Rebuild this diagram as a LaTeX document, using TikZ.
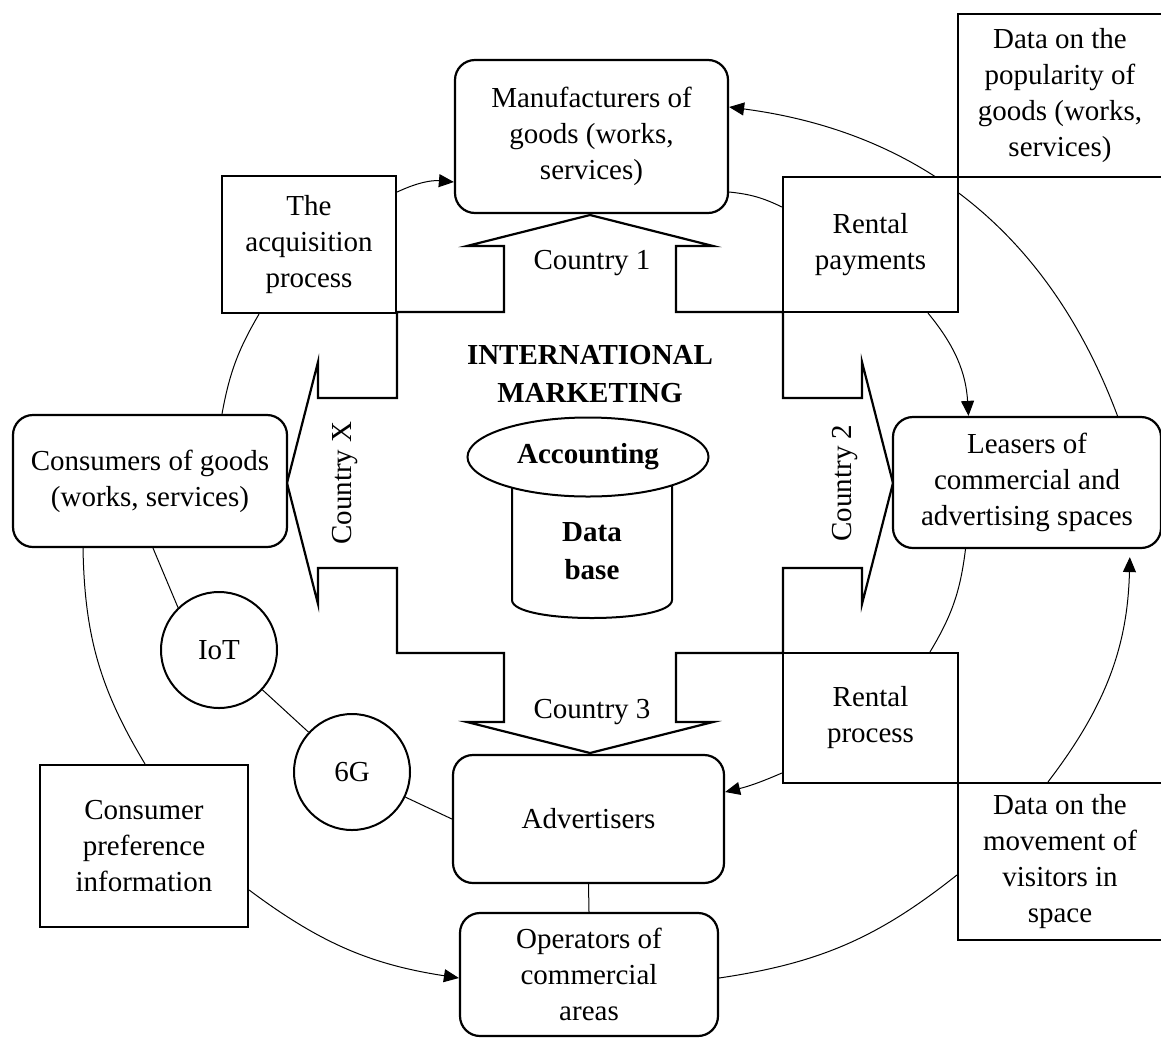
\documentclass[tikz,border=0pt]{standalone}
\usepackage{fontspec}
\setmainfont{Liberation Serif}
\usetikzlibrary{arrows.meta,shapes.geometric}
\pgfdeclarelayer{back}
\pgfsetlayers{back,main}
\begin{document}
\begin{tikzpicture}[x=1pt,y=-1pt,
  every node/.style={font=\fontsize{29}{36}\selectfont, align=center, inner sep=0pt},
  box/.style={draw, line width=2.2pt, fill=white},
  rbox/.style={box, rounded corners=20pt},
  circ/.style={draw, circle, line width=2pt, fill=white, minimum size=116pt},
  link/.style={line width=1pt},
  arr/.style={link, -{Triangle[length=15pt,width=13pt]}},
  crossline/.style={line width=2.2pt, line join=miter},
  boldtxt/.style={font=\fontsize{29}{38}\selectfont\bfseries}
]
\useasboundingbox (0,0) rectangle (1161,1039);

% boxes
\node[rbox, minimum width=273pt, minimum height=153pt] (man) at (591.5,136.5) {Manufacturers of\\goods (works,\\services)};
\node[box, minimum width=174pt, minimum height=137pt] (acq) at (309,244.5) {The\\acquisition\\process};
\node[box, minimum width=175pt, minimum height=135pt] (rpay) at (870.5,244.5) {Rental\\payments};
\node[box, minimum width=204pt, minimum height=163pt] (pop) at (1060,95.5) {Data on the\\popularity of\\goods (works,\\services)};
\node[rbox, minimum width=274pt, minimum height=132pt] (cons) at (150,481) {Consumers of goods\\(works, services)};
\node[rbox, minimum width=268pt, minimum height=131pt] (leas) at (1027,482.5) {Leasers of\\commercial and\\advertising spaces};
\node[box, minimum width=175pt, minimum height=130pt] (rproc) at (870.5,718) {Rental\\process};
\node[box, minimum width=204pt, minimum height=157pt] (mov) at (1060,861.5) {Data on the\\movement of\\visitors in\\space};
\node[box, minimum width=208pt, minimum height=162pt] (pref) at (144,846) {Consumer\\preference\\information};
\node[rbox, minimum width=271pt, minimum height=128pt] (adv) at (588.5,819) {Advertisers};
\node[rbox, minimum width=258pt, minimum height=123pt] (oper) at (589,974.5) {Operators of\\commercial\\areas};
\node[circ] (iot) at (219,650) {IoT};
\node[circ] (g6) at (352,772) {6G};

% labels
\node (c1) at (592,263) {Country 1};
\node (c3) at (592,712) {Country 3};
\node[rotate=90] (cx) at (345,483) {Country X};
\node[rotate=90] (c2) at (845,483) {Country 2};
\node[boldtxt] (title) at (590,374) {INTERNATIONAL\\MARKETING};

% database
\draw[line width=2pt, fill=white] (512,470) -- (512,600) .. controls (512,624) and (672,624) .. (672,600) -- (672,470);
\node[draw, ellipse, line width=2pt, fill=white, minimum width=241pt, minimum height=79pt, boldtxt] (acc) at (588,457) {Accounting};
\node[boldtxt] (dbt) at (592,551) {Data\\base};

\begin{pgfonlayer}{back}
% thin connectors
\draw[arr] ([yshift=52.5pt]acq.east) to[bend left=15] ([yshift=-45.5pt]man.west);
\draw[link] ([yshift=-55.5pt]man.east) to[bend left=10] ([yshift=37.5pt]rpay.west);
\draw[arr] ([xshift=57.5pt]rpay.south) to[bend left=18] ([xshift=-58.5pt]leas.north);
\draw[arr] ([xshift=90.5pt]leas.north) to[bend right=31] ([yshift=29.5pt]man.east);
\draw[link] ([xshift=-61.5pt]leas.south) to[bend left=12] ([xshift=59.5pt]rproc.north);
\draw[arr, shorten >=8pt] ([xshift=-12pt]mov.north) to[bend right=18] ([xshift=103pt]leas.south);
\draw[arr] ([yshift=-55pt]rproc.west) to[bend left=5] ([yshift=27pt]adv.east);
\draw[link] ([yshift=-13.5pt]mov.west) to[bend left=15] ([yshift=-3.5pt]oper.east);
\draw[arr] ([yshift=-44pt]pref.east) to[bend right=14] ([yshift=-3.5pt]oper.west);
\draw[link] ([xshift=-67pt]cons.south) to[bend right=15] ([xshift=1pt]pref.north);
\draw[link] ([xshift=-50pt]acq.south) to[bend right=10] ([xshift=72pt]cons.north);
\draw[link] ([xshift=3pt]cons.south) -- (iot.134);
\draw[link] (iot) -- (g6);
\draw[link] (g6) -- (adv.west);
\draw[link] (adv.south) -- (oper.north);
% four-way country arrow
\draw[crossline] (590,215) -- (713,246) -- (676,246) -- (676,312) -- (783,312) -- (783,398) -- (862,398) -- (862,362) -- (893,483) -- (862,604) -- (862,568) -- (783,568) -- (783,653) -- (676,653) -- (676,722) -- (713,722) -- (590,753) -- (467,722) -- (504,722) -- (504,653) -- (397,653) -- (397,568) -- (318,568) -- (318,604) -- (287,483) -- (318,362) -- (318,398) -- (397,398) -- (397,312) -- (504,312) -- (504,246) -- (467,246) -- cycle;
\end{pgfonlayer}
\end{tikzpicture}
\end{document}
